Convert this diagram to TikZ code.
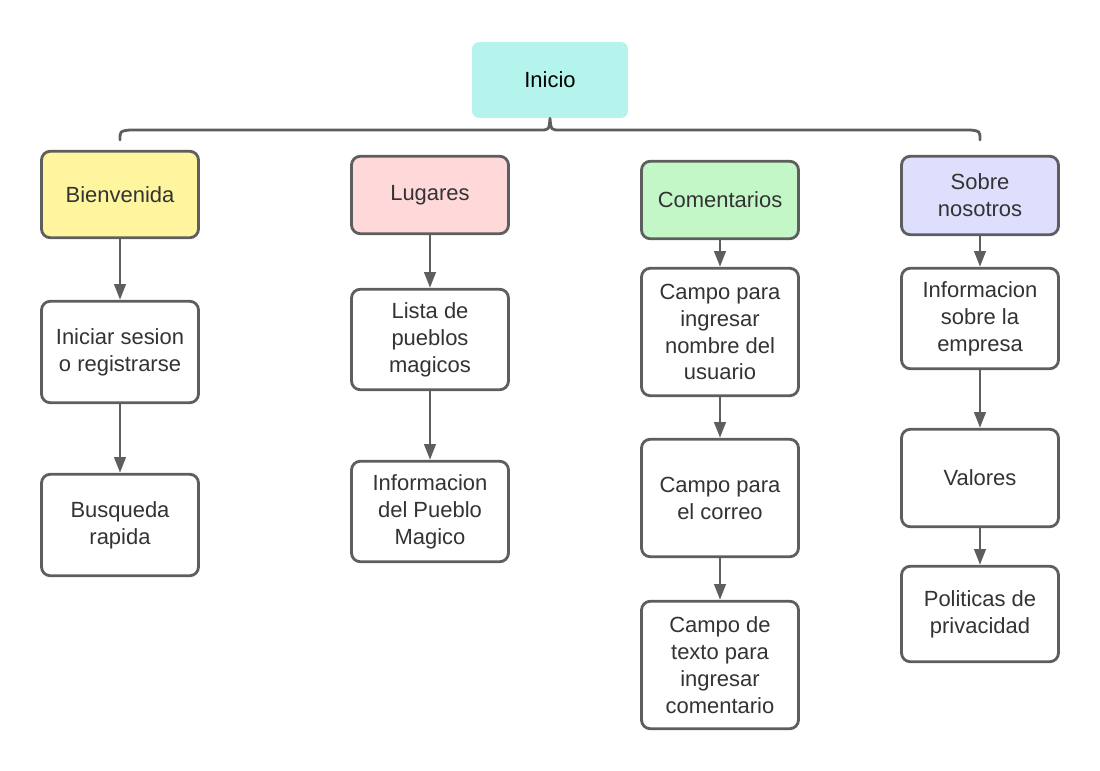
\documentclass[tikz,border=0pt]{standalone}
\usepackage{fontspec}
\setmainfont{Liberation Sans}
\usetikzlibrary{arrows.meta,positioning,calc}
\definecolor{edgegray}{HTML}{5E5E5E}
\definecolor{txtgray}{HTML}{333333}
\definecolor{iniciofill}{HTML}{B5F4EC}
\definecolor{bienvfill}{HTML}{FFF59F}
\definecolor{lugarfill}{HTML}{FFD9D9}
\definecolor{comentfill}{HTML}{C3F7C8}
\definecolor{sobrefill}{HTML}{DEDEFD}
\begin{document}
\begin{tikzpicture}[x=0.02cm,y=-0.02cm,line join=round,line cap=round,
    box/.style={draw=edgegray,line width=1.6pt,rounded corners=5pt,fill=white,
      minimum width=3.14cm,align=center,text=txtgray,inner sep=2pt,
      font=\fontsize{12.5}{15.3}\selectfont},
    arr/.style={-{Triangle[length=9pt,width=6.5pt]},draw=edgegray,line width=1.6pt},
    brace/.style={draw=edgegray,line width=1.6pt}]
  \useasboundingbox (0,0) rectangle (1100,771);
  % raiz
  \node[fill=iniciofill,rounded corners=4pt,minimum width=3.12cm,minimum height=1.52cm,
    font=\fontsize{12.5}{15.3}\selectfont] (inicio) at (550,80) {Inicio};
  \coordinate (braceL) at (120,140);
  \coordinate (braceR) at (980,140);
  \draw[brace] (braceL) .. controls (120,131) .. (130,130) -- (540,130)
    .. controls (549,130) .. (inicio.south) .. controls (551,130) .. (560,130)
    -- (970,130) .. controls (980,131) .. (braceR);
  % columna 1
  \node[box,fill=bienvfill,minimum height=1.73cm] (bienv) at (120,194.5) {Bienvenida};
  \node[box,minimum height=2.03cm] (iniciar) at (120,352) {Iniciar sesion\\o registrarse};
  \node[box,minimum height=2.03cm] (busqueda) at (120,525) {Busqueda\\rapida};
  % columna 2
  \node[box,fill=lugarfill,minimum height=1.55cm] (lugares) at (430,195) {Lugares};
  \node[box,minimum height=2.01cm] (lista) at (430,339.5) {Lista de\\pueblos\\magicos};
  \node[box,minimum height=2.01cm] (infopueblo) at (430,511.5) {Informacion\\del Pueblo\\Magico};
  % columna 3
  \node[box,fill=comentfill,minimum height=1.55cm] (coment) at (720,200) {Comentarios};
  \node[box,minimum height=2.55cm] (nombre) at (720,332) {Campo para\\ingresar\\nombre del\\usuario};
  \node[box,minimum height=2.35cm] (correo) at (720,498) {Campo para\\el correo};
  \node[box,minimum height=2.55cm] (texto) at (720,665) {Campo de\\texto para\\ingresar\\comentario};
  % columna 4
  \node[box,fill=sobrefill,minimum height=1.57cm] (sobre) at (980,195.5) {Sobre\\nosotros};
  \node[box,minimum height=2.01cm] (empresa) at (980,318.5) {Informacion\\sobre la\\empresa};
  \node[box,minimum height=1.95cm] (valores) at (980,478) {Valores};
  \node[box,minimum height=1.91cm] (politicas) at (980,614) {Politicas de\\privacidad};
  % flechas
  \draw[arr] (bienv) -- (iniciar);
  \draw[arr] (iniciar) -- (busqueda);
  \draw[arr] (lugares) -- (lista);
  \draw[arr] (lista) -- (infopueblo);
  \draw[arr] (coment) -- (nombre);
  \draw[arr] (nombre) -- (correo);
  \draw[arr] (correo) -- (texto);
  \draw[arr] (sobre) -- (empresa);
  \draw[arr] (empresa) -- (valores);
  \draw[arr] (valores) -- (politicas);
\end{tikzpicture}
\end{document}
